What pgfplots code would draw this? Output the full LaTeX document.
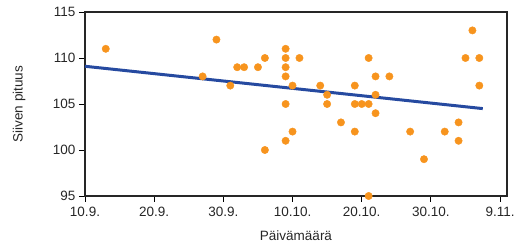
\documentclass[border=0pt]{standalone}
\usepackage{fontspec}
\setmainfont{Liberation Sans}
\usepackage{pgfplots}
\pgfplotsset{compat=1.18}
\definecolor{dotor}{RGB}{247,148,30}
\definecolor{trendb}{RGB}{38,74,160}
\begin{document}
\begin{tikzpicture}
\begin{axis}[
  at={(0,0)}, anchor=south west,
  scale only axis, width=422pt, height=184pt,
  xmin=0, xmax=61, ymin=95, ymax=115,
  xtick={0,10,20,30,40,50,60},
  xticklabels={10.9.,20.9.,30.9.,10.10.,20.10.,30.10.,9.11.},
  ytick={95,100,105,110,115},
  tick align=outside, major tick length=6pt,
  xtick pos=bottom, ytick pos=left,
  tick style={black, line width=0.9pt},
  axis line style={black!85, line width=1.1pt},
  /pgf/number format/assume math mode=true,
  tick label style={font=\fontsize{13.5}{15}\selectfont, text=black!85},
  label style={font=\fontsize{13.5}{15}\selectfont, text=black!85},
  xlabel={Päivämäärä}, ylabel={Siiven pituus},
  xlabel style={at={(axis description cs:0.5,-0.217)}, anchor=center},
  ylabel style={at={(axis description cs:-0.156,0.5)}, anchor=center},
  xticklabel style={yshift=-2pt},
  clip=false,
]
\addplot[trendb, line width=3pt] coordinates {(0,109.1) (57.5,104.5)};
\addplot[only marks, color=dotor, mark=*, mark size=3.7pt, mark options={draw=none, fill=dotor}] coordinates {
(3,111) (17,108) (19,112) (21,107) (22,109) (23,109) (25,109) (26,110) (26,100)
(29,111) (29,110) (29,109) (29,108) (29,105) (29,101)
(30,107) (30,102) (31,110) (34,107) (35,106) (35,105) (37,103)
(39,107) (39,105) (39,102) (40,105) (41,105) (41,110) (41,95)
(42,108) (42,106) (42,104) (44,108) (47,102) (49,99) (52,102)
(54,103) (54,101) (55,110) (56,113) (57,110) (57,107)
};
\end{axis}
\pgfresetboundingbox
\path (-85pt,-50pt) rectangle (438pt,196pt);
\end{tikzpicture}
\end{document}
